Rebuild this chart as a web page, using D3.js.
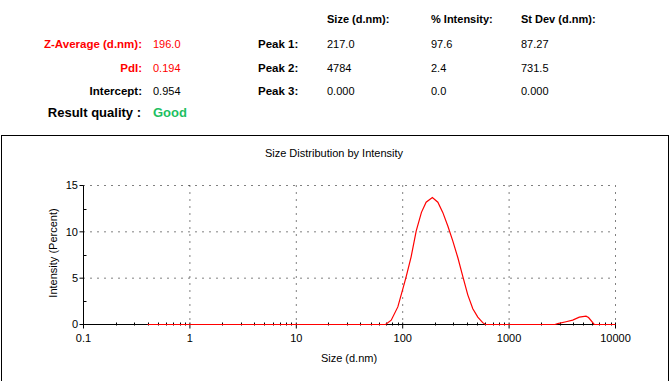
<!DOCTYPE html>
<html>
<head>
<meta charset="utf-8">
<script src="https://cdn.jsdelivr.net/npm/d3@7"></script>
<style>
  body { margin: 0; background: #fff; }
  svg { display: block; font-family: "Liberation Sans", Arial, sans-serif; }
</style>
</head>
<body>
<svg width="670" height="381"></svg>
<script>
const width = 670, height = 381;
const svg = d3.select("svg");

// Summary values
const summaryLabels = ["Z-Average (d.nm):", "PdI:", "Intercept:"];
const summaryValues = ["196.0", "0.194", "0.954"];
const summaryColors = ["#ff0000", "#ff0000", "#000"];
const qualityLabel = "Result quality :";
const qualityValue = "Good";

// Peak table
const peakHeaders = ["Size (d.nm):", "% Intensity:", "St Dev (d.nm):"];
const peakNames = ["Peak 1:", "Peak 2:", "Peak 3:"];
const peakSize = ["217.0", "4784", "0.000"];
const peakIntensity = ["97.6", "2.4", "0.0"];
const peakStDev = ["87.27", "731.5", "0.000"];

// Size distribution by intensity
const sizes = [0.4, 60, 69, 78, 90, 100, 108, 120, 134, 150, 166, 190, 214, 238, 266, 296,
               330, 367, 409, 456, 508, 565, 600, 2700, 2860, 3430, 3960, 4570, 5280, 5580, 6310, 10000];
const intensity = [0, 0, 0, 0.47, 1.9, 3.8, 5.2, 7.3, 10.1, 12.1, 13.2, 13.7, 13.2, 12.1, 10.6, 9.0,
                   7.2, 5.2, 3.2, 1.7, 0.8, 0.2, 0, 0, 0.1, 0.3, 0.47, 0.8, 0.9, 0.75, 0, 0];

const xTicks = [0.1, 1, 10, 100, 1000, 10000];
const yTicks = [0, 5, 10, 15];
const yMinor = [2.5, 7.5, 12.5];

// ---- header block ----
const header = svg.append("g");
summaryLabels.forEach((t, i) => {
    const y = 48 + i * 23.5;
    header.append("text").attr("x", 142).attr("y", y).attr("text-anchor", "end")
        .style("font-size", "11.5px").style("font-weight", "bold").attr("fill", summaryColors[i]).text(t);
    header.append("text").attr("x", 153).attr("y", y)
        .style("font-size", "11px").attr("fill", summaryColors[i]).text(summaryValues[i]);
});
header.append("text").attr("x", 141).attr("y", 117).attr("text-anchor", "end")
    .style("font-size", "13px").style("font-weight", "bold").text(qualityLabel);
header.append("text").attr("x", 153).attr("y", 117)
    .style("font-size", "13px").style("font-weight", "bold").attr("fill", "#1dbf62").text(qualityValue);

const colX = [327, 431, 521];
peakHeaders.forEach((t, i) => {
    header.append("text").attr("x", colX[i]).attr("y", 23)
        .style("font-size", "11px").style("font-weight", "bold").text(t);
});
peakNames.forEach((t, i) => {
    const y = 48 + i * 23.5;
    header.append("text").attr("x", 258).attr("y", y)
        .style("font-size", "11.5px").style("font-weight", "bold").text(t);
    [peakSize[i], peakIntensity[i], peakStDev[i]].forEach((v, j) => {
        header.append("text").attr("x", colX[j]).attr("y", y).style("font-size", "11px").text(v);
    });
});

// ---- chart box ----
svg.append("rect").attr("x", 1.5).attr("y", 135.5).attr("width", 667).attr("height", 260)
    .attr("fill", "none").attr("stroke", "#000").attr("stroke-width", 1);

svg.append("text").attr("x", 334).attr("y", 157).attr("text-anchor", "middle")
    .style("font-size", "11px").text("Size Distribution by Intensity");

const x = d3.scaleLog().domain([0.1, 10000]).range([83.5, 615.5]);
const y = d3.scaleLinear().domain([0, 15]).range([324.5, 185.5]);

// dotted grid
const grid = svg.append("g").attr("stroke", "#000").attr("stroke-dasharray", "1,6");
grid.selectAll(".vg").data(xTicks.slice(1)).enter().append("line")
    .attr("x1", d => x(d)).attr("x2", d => x(d)).attr("y1", y(15)).attr("y2", y(0));
grid.selectAll(".hg").data(yTicks.slice(1)).enter().append("line")
    .attr("x1", x(0.1)).attr("x2", x(10000)).attr("y1", d => y(d)).attr("y2", d => y(d));

// x axis
const xMinor = [];
xTicks.slice(0, -1).forEach(d => { for (let k = 2; k <= 9; k++) xMinor.push(d * k); });
const xAxis = svg.append("g").attr("stroke", "#000");
xAxis.append("line").attr("x1", x(0.1)).attr("x2", x(10000)).attr("y1", y(0)).attr("y2", y(0));
xAxis.selectAll(".mx").data(xMinor).enter().append("line")
    .attr("x1", d => Math.round(x(d)) + 0.5).attr("x2", d => Math.round(x(d)) + 0.5)
    .attr("y1", y(0) - 2).attr("y2", y(0) + 1);
xAxis.selectAll(".Mx").data(xTicks).enter().append("line")
    .attr("x1", d => x(d)).attr("x2", d => x(d)).attr("y1", y(0) - 2).attr("y2", y(0) + 4);
svg.selectAll(".xl").data(xTicks).enter().append("text")
    .attr("x", d => x(d)).attr("y", 342).attr("text-anchor", "middle")
    .style("font-size", "11px").text(d => d);

// y axis
const yAxis = svg.append("g").attr("stroke", "#000");
yAxis.append("line").attr("x1", x(0.1)).attr("x2", x(0.1)).attr("y1", y(0)).attr("y2", y(15));
yAxis.selectAll(".My").data(yTicks).enter().append("line")
    .attr("x1", x(0.1) - 4).attr("x2", x(0.1)).attr("y1", d => y(d)).attr("y2", d => y(d));
yAxis.selectAll(".my").data(yMinor).enter().append("line")
    .attr("x1", x(0.1)).attr("x2", x(0.1) + 3).attr("y1", d => Math.round(y(d)) + 0.5).attr("y2", d => Math.round(y(d)) + 0.5);
svg.selectAll(".yl").data(yTicks).enter().append("text")
    .attr("x", 78).attr("y", d => y(d)).attr("dy", "0.35em").attr("text-anchor", "end")
    .style("font-size", "11px").text(d => d);

svg.append("text").attr("x", 349).attr("y", 362).attr("text-anchor", "middle")
    .style("font-size", "11px").text("Size (d.nm)");
svg.append("text").attr("transform", "translate(57,253) rotate(-90)").attr("text-anchor", "middle")
    .style("font-size", "11px").text("Intensity (Percent)");

// distribution curve
const points = sizes.map((s, i) => ({ size: s, value: intensity[i] }));
svg.append("path").datum(points)
    .attr("fill", "none").attr("stroke", "#ff0000").attr("stroke-width", 1.2)
    .attr("d", d3.line().x(d => x(d.size)).y(d => y(d.value)));
</script>
</body>
</html>
